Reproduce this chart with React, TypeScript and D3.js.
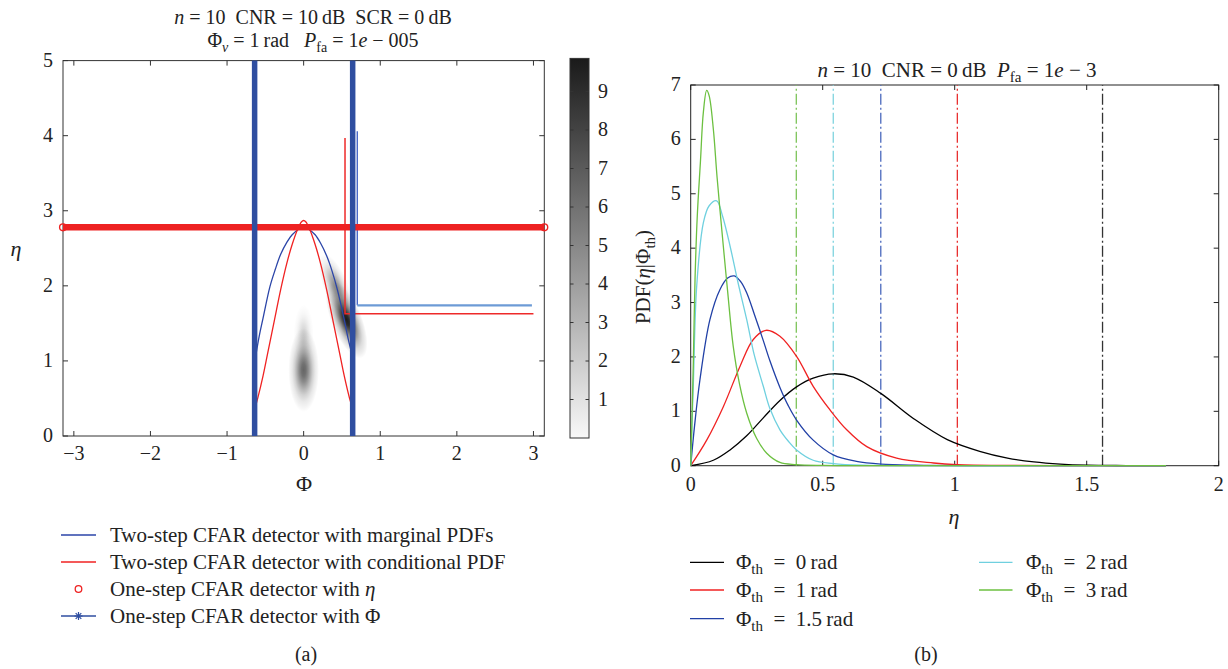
import React from 'react';
import * as d3 from 'd3';

const FONT = '"Liberation Serif", "Times New Roman", serif';

// ---------- Panel (a) data ----------
const aXTicks = [-3, -2, -1, 0, 1, 2, 3];
const aYTicks = [0, 1, 2, 3, 4, 5];
const cbTicks = [1, 2, 3, 4, 5, 6, 7, 8, 9];
const cbMin = 0;
const cbMax = 9.86;

const oneStepPhi = [-0.64, 0.64]; // one-step CFAR with Φ thresholds
const oneStepEta = 2.78; // one-step CFAR with η threshold

const marginalPhi = [-0.64, -0.58, -0.53, -0.44, -0.37, -0.3, -0.22, -0.15, -0.07, 0, 0.07, 0.15, 0.22, 0.3, 0.37, 0.44, 0.53, 0.58, 0.64];
const marginalEta = [0.98, 1.33, 1.57, 1.99, 2.22, 2.42, 2.58, 2.68, 2.75, 2.78, 2.75, 2.68, 2.57, 2.4, 2.2, 1.95, 1.55, 1.3, 1.05];

const conditionalPhi = [-0.64, -0.6, -0.53, -0.47, -0.38, -0.3, -0.22, -0.15, -0.08, -0.03, 0, 0.03, 0.08, 0.15, 0.22, 0.3, 0.38, 0.47, 0.53, 0.6, 0.64];
const conditionalEta = [0.35, 0.5, 0.8, 1.1, 1.55, 1.95, 2.3, 2.55, 2.75, 2.85, 2.87, 2.85, 2.75, 2.55, 2.3, 1.95, 1.55, 1.1, 0.8, 0.5, 0.37];

const marginalStepPhi = [0.7, 0.7, 2.98];
const marginalStepEta = [4.06, 1.74, 1.74];
const conditionalStepPhi = [0.54, 0.54, 3.0];
const conditionalStepEta = [3.97, 1.627, 1.627];

// joint PDF image, described as blobs (centre, peak value, half-extent in Φ / η, tilt)
const blobPhi = [0.0, 0.0, 0.42, 0.56];
const blobEta = [0.88, 1.35, 2.0, 1.55];
const blobPeak = [6.5, 1.6, 4.5, 9.8];
const blobHalfPhi = [0.2, 0.13, 0.16, 0.2];
const blobHalfEta = [0.56, 0.4, 0.45, 0.55];
const blobTilt = [0, 0, -22, -22];

const legendA = [
  'Two-step CFAR detector with marginal PDFs',
  'Two-step CFAR detector with conditional PDF',
  'One-step CFAR detector with ',
  'One-step CFAR detector with Φ',
];

// ---------- Panel (b) data ----------
const bXTicks = [0, 0.5, 1, 1.5, 2];
const bXTickLabels = ['0', '0.5', '1', '1.5', '2'];
const bYTicks = [0, 1, 2, 3, 4, 5, 6, 7];

const phiThLabels = ['0', '1', '1.5', '2', '3'];
const seriesColors = ['#000000', '#f02222', '#2140a6', '#6fd0df', '#6cc040'];
const thresholdColors = ['#333333', '#e83030', '#4a68bd', '#7fd3df', '#7cc45a'];
const etaThresholds = [1.56, 1.01, 0.72, 0.54, 0.4];

const eta0 = [0, 0.0857, 0.149, 0.212, 0.275, 0.338, 0.401, 0.464, 0.54, 0.616, 0.72, 0.846, 0.972, 1.098, 1.2, 1.3, 1.4, 1.5, 1.65, 1.8];
const pdf0 = [0, 0.1, 0.29, 0.55, 0.88, 1.2, 1.45, 1.61, 1.69, 1.63, 1.33, 0.86, 0.48, 0.26, 0.14, 0.07, 0.03, 0.01, 0.003, 0];

const eta1 = [0, 0.0606, 0.124, 0.187, 0.237, 0.285, 0.338, 0.401, 0.464, 0.527, 0.591, 0.667, 0.78, 0.92, 1.01, 1.2, 1.5, 1.8];
const pdf1 = [0, 0.47, 1.09, 1.83, 2.32, 2.49, 2.38, 2.01, 1.46, 1.03, 0.66, 0.35, 0.14, 0.05, 0.02, 0.005, 0.001, 0];

const eta15 = [0, 0.015, 0.035, 0.073, 0.111, 0.14, 0.165, 0.19, 0.212, 0.24, 0.275, 0.3, 0.338, 0.37, 0.401, 0.464, 0.54, 0.628, 0.72, 0.85, 1.1, 1.8];
const pdf15 = [0, 0.75, 1.58, 2.69, 3.24, 3.45, 3.49, 3.38, 3.18, 2.8, 2.3, 1.93, 1.44, 1.1, 0.84, 0.47, 0.2, 0.08, 0.03, 0.01, 0.002, 0];

const eta2 = [0, 0.01, 0.0227, 0.048, 0.07, 0.0985, 0.12, 0.149, 0.18, 0.212, 0.24, 0.275, 0.3, 0.338, 0.37, 0.401, 0.464, 0.54, 0.65, 0.9, 1.8];
const pdf2 = [0, 1.5, 3.3, 4.47, 4.78, 4.87, 4.6, 4.04, 3.35, 2.69, 2.05, 1.46, 1.05, 0.66, 0.45, 0.29, 0.1, 0.04, 0.01, 0.002, 0];

const eta3 = [0, 0.005, 0.01, 0.0164, 0.025, 0.037, 0.048, 0.0606, 0.07, 0.0857, 0.1, 0.1235, 0.14, 0.161, 0.185, 0.212, 0.25, 0.288, 0.338, 0.4, 0.5, 0.7, 1.0, 1.8];
const pdf3 = [0, 0.9, 1.9, 3.43, 4.6, 5.6, 6.5, 6.9, 6.8, 6.19, 5.3, 4.04, 3.2, 2.2, 1.5, 0.97, 0.5, 0.23, 0.06, 0.02, 0.005, 0.001, 0, 0];

const etaSeries = [eta0, eta1, eta15, eta2, eta3];
const pdfSeries = [pdf0, pdf1, pdf15, pdf2, pdf3];

export default function App() {
  const W = 1228;
  const H = 669;

  // panel (a) scales
  const ax = d3.scaleLinear().domain([-Math.PI, Math.PI]).range([63, 544.3]);
  const ay = d3.scaleLinear().domain([0, 5]).range([436, 60.6]);
  const cy = d3.scaleLinear().domain([cbMin, cbMax]).range([438, 58.4]);
  const cbX0 = 570;
  const cbX1 = 589;

  // panel (b) scales
  const bx = d3.scaleLinear().domain([0, 2]).range([690.7, 1218.7]);
  const by = d3.scaleLinear().domain([0, 7]).range([465.7, 85]);

  const grayOf = (v: number) => 248 - (248 - 26) * (v - cbMin) / (cbMax - cbMin);
  const alphaOf = (v: number) => (255 - grayOf(v)) / 255;

  const lineA = d3.line<[number, number]>().x(d => ax(d[0])).y(d => ay(d[1])).curve(d3.curveCatmullRom.alpha(0.5));
  const lineStep = d3.line<[number, number]>().x(d => ax(d[0])).y(d => ay(d[1]));
  const lineB = d3.line<[number, number]>().x(d => bx(d[0])).y(d => by(d[1])).curve(d3.curveCatmullRom.alpha(0.5));

  const marginalPts = marginalPhi.map((p, i) => [p, marginalEta[i]] as [number, number]);
  const conditionalPts = conditionalPhi.map((p, i) => [p, conditionalEta[i]] as [number, number]);
  const mStep = marginalStepPhi.map((p, i) => [p, marginalStepEta[i]] as [number, number]);
  const cStep = conditionalStepPhi.map((p, i) => [p, conditionalStepEta[i]] as [number, number]);

  const pxPerPhi = ax(1) - ax(0);
  const pxPerEta = ay(0) - ay(1);
  const tick = 5;

  const aL = ax.range()[0], aR = ax.range()[1], aT = ay.range()[1], aB = ay.range()[0];
  const bL = bx.range()[0], bR = bx.range()[1], bT = by.range()[1], bB = by.range()[0];

  const stopOffsets = [0, 0.15, 0.3, 0.45, 0.6, 0.75, 0.9, 1];

  const star = (cx: number, cy0: number, r: number, color: string) => (
    <g stroke={color} strokeWidth={1.2}>
      <line x1={cx - r} y1={cy0} x2={cx + r} y2={cy0} />
      <line x1={cx} y1={cy0 - r} x2={cx} y2={cy0 + r} />
      <line x1={cx - r * 0.7} y1={cy0 - r * 0.7} x2={cx + r * 0.7} y2={cy0 + r * 0.7} />
      <line x1={cx - r * 0.7} y1={cy0 + r * 0.7} x2={cx + r * 0.7} y2={cy0 - r * 0.7} />
    </g>
  );

  const legendARows = [535, 562, 589, 616];
  const legendBRows = [562.3, 590, 618.6];
  const legendBCols = [{ l0: 690, l1: 724, t: 736 }, { l0: 979, l1: 1012.5, t: 1026 }];

  return (
    <svg width={W} height={H} style={{ position: 'absolute', left: 0, top: 0, background: '#fff' }} fontFamily={FONT}>
      <defs>
        <clipPath id="clipA">
          <rect x={aL} y={aT} width={aR - aL} height={aB - aT} />
        </clipPath>
        <linearGradient id="cbGrad" x1="0" y1="1" x2="0" y2="0">
          {d3.range(0, 1.0001, 0.1).map(t => {
            const g = Math.round(grayOf(cbMin + t * (cbMax - cbMin)));
            return <stop key={t} offset={t} stopColor={`rgb(${g},${g},${g})`} />;
          })}
        </linearGradient>
        {blobPeak.map((pk, i) => (
          <radialGradient id={`blob${i}`} key={i}>
            {stopOffsets.map(o => (
              <stop key={o} offset={o} stopColor="#000" stopOpacity={o === 1 ? 0 : alphaOf(pk) * Math.exp(-3.4 * o * o)} />
            ))}
          </radialGradient>
        ))}
      </defs>

      {/* ================= Panel (a) ================= */}
      <g clipPath="url(#clipA)">
        {blobPeak.map((pk, i) => (
          <ellipse
            key={i}
            cx={ax(blobPhi[i])}
            cy={ay(blobEta[i])}
            rx={blobHalfPhi[i] * pxPerPhi}
            ry={blobHalfEta[i] * pxPerEta}
            fill={`url(#blob${i})`}
            transform={`rotate(${blobTilt[i]} ${ax(blobPhi[i])} ${ay(blobEta[i])})`}
          />
        ))}
      </g>

      {/* frame + ticks */}
      <rect x={aL} y={aT} width={aR - aL} height={aB - aT} fill="none" stroke="#333" strokeWidth={1} />
      {aXTicks.map(t => (
        <g key={t}>
          <line x1={ax(t)} x2={ax(t)} y1={aB} y2={aB - tick} stroke="#333" />
          <line x1={ax(t)} x2={ax(t)} y1={aT} y2={aT + tick} stroke="#333" />
          <text x={ax(t)} y={aB + 24} fontSize={20} textAnchor="middle" fill="#222">{t < 0 ? `\u2212${-t}` : `${t}`}</text>
        </g>
      ))}
      {aYTicks.map(t => (
        <g key={t}>
          <line x1={aL} x2={aL + tick} y1={ay(t)} y2={ay(t)} stroke="#333" />
          <line x1={aR} x2={aR - tick} y1={ay(t)} y2={ay(t)} stroke="#333" />
          <text x={aL - 10} y={ay(t) + 6} fontSize={20} textAnchor="end" fill="#222">{t}</text>
        </g>
      ))}

      {/* two-step curves */}
      <path d={lineA(marginalPts) || ''} fill="none" stroke="#2b45a8" strokeWidth={1.3} />
      <path d={lineA(conditionalPts) || ''} fill="none" stroke="#f02222" strokeWidth={1.3} />
      <path d={lineStep(cStep) || ''} fill="none" stroke="#ee2a2a" strokeWidth={1.5} />
      <path d={lineStep(mStep.slice(0, 2)) || ''} fill="none" stroke="#3a5cc4" strokeWidth={1.3} />
      <path d={lineStep(mStep.slice(1)) || ''} fill="none" stroke="#6d9bd6" strokeWidth={2.2} />

      {/* one-step η threshold (circle markers) */}
      <line x1={ax(-Math.PI)} x2={ax(Math.PI)} y1={ay(oneStepEta)} y2={ay(oneStepEta)} stroke="#ee2222" strokeWidth={6.5} />
      {[-Math.PI, Math.PI].map(p => (
        <circle key={p} cx={ax(p)} cy={ay(oneStepEta)} r={3.4} fill="#fff" fillOpacity={0} stroke="#ee2222" strokeWidth={1.4} />
      ))}

      {/* one-step Φ thresholds */}
      {oneStepPhi.map(p => (
        <line key={p} x1={ax(p)} x2={ax(p)} y1={ay(0)} y2={ay(5)} stroke="#2f4ea0" strokeWidth={5.5} />
      ))}

      {/* titles */}
      <text x={313} y={24} fontSize={20} textAnchor="middle" fill="#222" style={{ whiteSpace: 'pre' }}>
        <tspan fontStyle="italic">n</tspan>
        <tspan>{' = 10  CNR = 10\u2009dB  SCR = 0\u2009dB'}</tspan>
      </text>
      <text x={313} y={47} fontSize={20} textAnchor="middle" fill="#222" style={{ whiteSpace: 'pre' }}>
        <tspan>Φ</tspan>
        <tspan fontSize={14} dy={5} fontStyle="italic">v</tspan>
        <tspan dy={-5}>{' = 1\u2009rad   '}</tspan>
        <tspan fontStyle="italic">P</tspan>
        <tspan fontSize={14} dy={5}>fa</tspan>
        <tspan dy={-5}>{' = 1'}</tspan>
        <tspan fontStyle="italic">e</tspan>
        <tspan>{' \u2212 005'}</tspan>
      </text>
      <text x={16} y={256} fontSize={22} textAnchor="middle" fontStyle="italic" fill="#222">η</text>
      <text x={304} y={491} fontSize={22} textAnchor="middle" fill="#222">Φ</text>

      {/* colorbar */}
      <rect x={cbX0} y={cy(cbMax)} width={cbX1 - cbX0} height={cy(cbMin) - cy(cbMax)} fill="url(#cbGrad)" stroke="#333" strokeWidth={1} />
      {cbTicks.map(t => (
        <g key={t}>
          <line x1={cbX0} x2={cbX0 + 3.5} y1={cy(t)} y2={cy(t)} stroke="#333" />
          <line x1={cbX1} x2={cbX1 - 3.5} y1={cy(t)} y2={cy(t)} stroke="#333" />
          <text x={cbX1 + 9} y={cy(t) + 6} fontSize={20} fill="#222">{t}</text>
        </g>
      ))}

      {/* legend (a) */}
      <line x1={61} x2={96} y1={legendARows[0]} y2={legendARows[0]} stroke="#2b45a8" strokeWidth={1.3} />
      <line x1={61} x2={96} y1={legendARows[1]} y2={legendARows[1]} stroke="#f02222" strokeWidth={1.3} />
      <circle cx={78.5} cy={legendARows[2]} r={3.3} fill="none" stroke="#ee2222" strokeWidth={1.3} />
      <line x1={61} x2={96} y1={legendARows[3]} y2={legendARows[3]} stroke="#2f4ea0" strokeWidth={1.6} />
      {star(78.5, legendARows[3], 4, '#2f4ea0')}
      {legendA.map((s, i) => (
        <text key={i} x={110} y={legendARows[i] + 7} fontSize={21} fill="#222">
          {s}
          {i === 2 ? <tspan fontStyle="italic">η</tspan> : null}
        </text>
      ))}
      <text x={306} y={661} fontSize={20} textAnchor="middle" fill="#222">(a)</text>

      {/* ================= Panel (b) ================= */}
      <rect x={bL} y={bT} width={bR - bL} height={bB - bT} fill="none" stroke="#222" strokeWidth={1} />
      {bXTicks.map((t, i) => (
        <g key={t}>
          <line x1={bx(t)} x2={bx(t)} y1={bB} y2={bB - tick} stroke="#222" />
          <line x1={bx(t)} x2={bx(t)} y1={bT} y2={bT + tick} stroke="#222" />
          <text x={bx(t)} y={bB + 25} fontSize={20} textAnchor="middle" fill="#222">{bXTickLabels[i]}</text>
        </g>
      ))}
      {bYTicks.map(t => (
        <g key={t}>
          <line x1={bL} x2={bL + tick} y1={by(t)} y2={by(t)} stroke="#222" />
          <line x1={bR} x2={bR - tick} y1={by(t)} y2={by(t)} stroke="#222" />
          <text x={bL - 10} y={by(t) + 6} fontSize={20} textAnchor="end" fill="#222">{t}</text>
        </g>
      ))}

      {etaThresholds.map((e, i) => (
        <line key={i} x1={bx(e)} x2={bx(e)} y1={by(0)} y2={by(7)} stroke={thresholdColors[i]} strokeWidth={1.3} strokeDasharray="11,3,2,3" />
      ))}
      {etaSeries.map((es, i) => (
        <path
          key={i}
          d={lineB(es.map((e, j) => [e, pdfSeries[i][j]] as [number, number])) || ''}
          fill="none"
          stroke={seriesColors[i]}
          strokeWidth={1.3}
        />
      ))}

      <text x={957} y={77} fontSize={21} textAnchor="middle" fill="#222" style={{ whiteSpace: 'pre' }}>
        <tspan fontStyle="italic">n</tspan>
        <tspan>{' = 10  CNR = 0\u2009dB  '}</tspan>
        <tspan fontStyle="italic">P</tspan>
        <tspan fontSize={15} dy={5}>fa</tspan>
        <tspan dy={-5}>{' = 1'}</tspan>
        <tspan fontStyle="italic">e</tspan>
        <tspan>{' \u2212 3'}</tspan>
      </text>
      <text transform={`translate(650,${277}) rotate(-90)`} fontSize={21} textAnchor="middle" fill="#222">
        <tspan>PDF(</tspan>
        <tspan fontStyle="italic">η</tspan>
        <tspan>|Φ</tspan>
        <tspan fontSize={15} dy={5}>th</tspan>
        <tspan dy={-5}>)</tspan>
      </text>
      <text x={954} y={524} fontSize={22} textAnchor="middle" fontStyle="italic" fill="#222">η</text>

      {/* legend (b) */}
      {phiThLabels.map((lab, i) => {
        const col = legendBCols[i < 3 ? 0 : 1];
        const row = legendBRows[i < 3 ? i : i - 3];
        return (
          <g key={i}>
            <line x1={col.l0} x2={col.l1} y1={row} y2={row} stroke={seriesColors[i]} strokeWidth={1.3} />
            <text x={col.t} y={row + 7} fontSize={21} fill="#222" style={{ whiteSpace: 'pre' }}>
              <tspan>Φ</tspan>
              <tspan fontSize={15} dy={5}>th</tspan>
              <tspan dy={-5}>{`\u2002=\u2002${lab}\u2009rad`}</tspan>
            </text>
          </g>
        );
      })}
      <text x={926} y={661} fontSize={20} textAnchor="middle" fill="#222">(b)</text>
    </svg>
  );
}
